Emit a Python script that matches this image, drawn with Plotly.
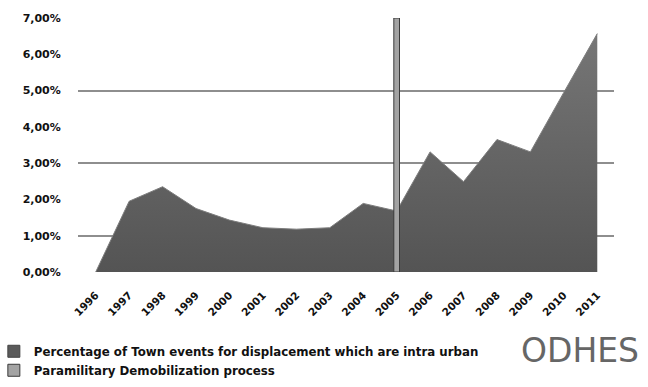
import plotly.graph_objects as go

years = list(range(1996, 2012))
pct_intra_urban = [0.0, 1.95, 2.35, 1.75, 1.43, 1.22, 1.18, 1.22, 1.89, 1.68,
                   3.31, 2.49, 3.65, 3.31, 4.95, 6.57]
demob_year = [2005]
demob_value = [7.0]
y_labels = [0, 1, 2, 3, 4, 5, 6, 7]
grid_vals = [1, 3, 5, 7]

name1 = "Percentage of Town events for displacement which are intra urban"
name2 = "Paramilitary Demobilization process"

fig = go.Figure()
fig.add_trace(go.Scatter(
    x=years, y=[v / 100 for v in pct_intra_urban], name=name1,
    mode="lines", fill="tozeroy", showlegend=False,
    line=dict(color="#7d7d7d", width=1),
    fillcolor="#5e5e5e",
    fillgradient=dict(type="vertical",
                      colorscale=[[0, "#545454"], [1, "#767676"]]),
    xaxis="x", yaxis="y",
))
# legend entry (square swatch) for the area series
fig.add_trace(go.Bar(
    x=[None], y=[None], name=name1,
    marker=dict(color="#5a5a5a", line=dict(color="#444", width=1)),
    xaxis="x2", yaxis="y2",
))
fig.add_trace(go.Bar(
    x=demob_year, y=[v / 100 for v in demob_value], name=name2,
    width=0.17, marker=dict(color="#a3a3a3", line=dict(color="#3a3a3a", width=1)),
    xaxis="x2", yaxis="y2",
))

xr = [1995.47, 2011.5]
yr = [0, 0.07]
fig.update_layout(
    width=648, height=387,
    margin=dict(l=78, r=34, t=18, b=115, autoexpand=False),
    paper_bgcolor="white", plot_bgcolor="white",
    separators=", ",
    showlegend=True,
    font=dict(family="DejaVu Sans, Liberation Sans, sans-serif", color="#111"),
    legend=dict(x=-0.157, y=-0.255,
                xanchor="left", yanchor="top",
                orientation="v", font=dict(size=11.8, weight="bold"),
                itemwidth=30, tracegroupgap=0, traceorder="normal",
                bgcolor="rgba(0,0,0,0)"),
    xaxis=dict(range=xr, tickvals=years, ticktext=[str(y) for y in years],
               tickangle=-45, showgrid=False, zeroline=False, showline=False,
               ticks="outside", ticklen=12, tickcolor="rgba(0,0,0,0)",
               tickfont=dict(size=10.5, weight="bold"), automargin=False),
    yaxis=dict(range=yr, tickvals=[v / 100 for v in y_labels], tickformat=".2%",
               showgrid=False, zeroline=False, showline=False,
               ticks="outside", ticklen=14, tickcolor="rgba(0,0,0,0)",
               tickfont=dict(size=11, weight="bold"), automargin=False),
    xaxis2=dict(range=xr, overlaying="x", visible=False),
    yaxis2=dict(range=yr, overlaying="y", tickvals=[v / 100 for v in grid_vals],
                showticklabels=False, showgrid=True, gridcolor="#8e8e8e",
                gridwidth=1.5, zeroline=False, showline=False, automargin=False),
    annotations=[dict(text="ODHES", xref="paper", yref="paper",
                      x=1.05, y=-0.31, xanchor="right", yanchor="middle",
                      showarrow=False,
                      font=dict(size=33, color="#666", family="DejaVu Sans"))],
)

fig.write_html("out.html", config={"displayModeBar": False},
               post_script="document.body.style.margin='0';document.body.style.overflow='hidden';")
